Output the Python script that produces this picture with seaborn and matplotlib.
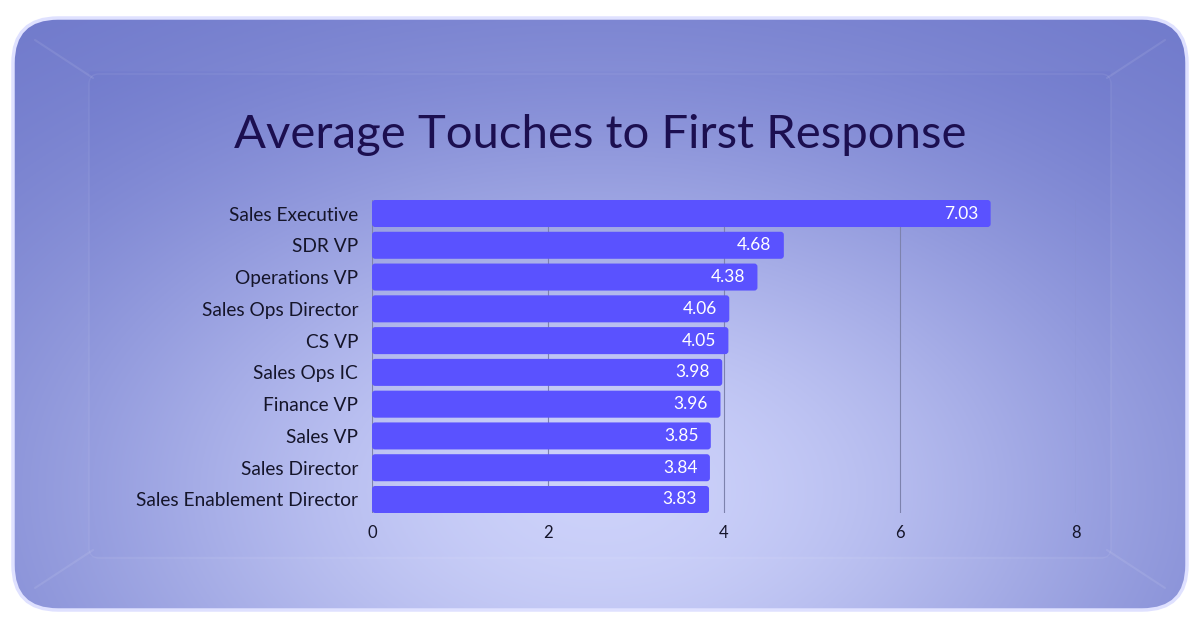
import numpy as np
import pandas as pd
import seaborn as sns
import matplotlib.pyplot as plt
from matplotlib.patches import FancyBboxPatch

roles = ['Sales Executive', 'SDR VP', 'Operations VP', 'Sales Ops Director',
         'CS VP', 'Sales Ops IC', 'Finance VP', 'Sales VP', 'Sales Director',
         'Sales Enablement Director']
touches = [7.03, 4.68, 4.38, 4.06, 4.05, 3.98, 3.96, 3.85, 3.84, 3.83]
ticks = [0, 2, 4, 6, 8]

df = pd.DataFrame({'role': roles, 'touches': touches})

sns.set_theme(style='white')
plt.rcParams['font.family'] = ['Lato', 'DejaVu Sans']

W, H = 1200, 627
fig = plt.figure(figsize=(12, 6.27), dpi=100)
fig.patch.set_facecolor('white')

# background card with a soft gradient
bg = fig.add_axes([0, 0, 1, 1])
bg.set_xlim(0, W)
bg.set_ylim(H, 0)
bg.axis('off')
x0, x1, y0, y1 = 13, 1187, 18, 610
yy, xx = np.mgrid[0:1:300j, 0:1:600j]
t = np.exp(-((xx - 0.5) / 0.5) ** 2 - ((yy - 0.8) / 0.62) ** 2)
dark = np.array([0.40, 0.44, 0.78])
light = np.array([0.80, 0.82, 0.98])
img = dark + (light - dark) * t[..., None]
band = ((xx < 0.065) | (xx > 0.935) | (yy < 0.09) | (yy > 0.91))
img[band] = img[band] * 0.97 + 0.03
card = FancyBboxPatch((x0, y0), x1 - x0, y1 - y0,
                      boxstyle='round,pad=0,rounding_size=45',
                      facecolor='none', edgecolor='#dfe1ff', lw=2.5)
bg.add_patch(card)
im = bg.imshow(img, extent=(x0, x1, y1, y0), aspect='auto', zorder=0)
im.set_clip_path(card)
inner = FancyBboxPatch((x0 + 76, y0 + 56), x1 - x0 - 152, y1 - y0 - 108,
                       boxstyle='round,pad=0,rounding_size=10',
                       facecolor='none', edgecolor='white', lw=1, alpha=0.07)
bg.add_patch(inner)
for (ax_, ay_), (bx_, by_) in [((x0 + 22, y0 + 22), (x0 + 80, y0 + 60)),
                               ((x1 - 22, y0 + 22), (x1 - 80, y0 + 60)),
                               ((x0 + 22, y1 - 22), (x0 + 80, y1 - 60)),
                               ((x1 - 22, y1 - 22), (x1 - 80, y1 - 60))]:
    bg.plot([ax_, bx_], [ay_, by_], color='white', lw=1.5, alpha=0.09)

bg.text(600, 135, 'Average Touches to First Response', ha='center', va='center',
        fontsize=34, color='#1c0f50')

# bar chart
ax = fig.add_axes([372 / W, 1 - 513 / H, (1076 - 372) / W, (513 - 200) / H])
ax.patch.set_alpha(0)
sns.barplot(data=df, x='touches', y='role', order=roles, color='#5a52ff',
            saturation=1, width=0.85, ax=ax)

# round the bar ends a little
aspect = (1 / 31.8) / (1 / 88.0)
for p in list(ax.patches):
    bx, by, bw, bh = p.get_x(), p.get_y(), p.get_width(), p.get_height()
    p.remove()
    ax.add_patch(FancyBboxPatch((bx, by), bw, bh,
                                boxstyle='round,pad=0,rounding_size=0.035',
                                mutation_aspect=aspect, facecolor='#5a52ff',
                                edgecolor='none', zorder=2))

for i, v in enumerate(touches):
    ax.text(v - 0.14, i, f'{v:.2f}', ha='right', va='center',
            color='white', fontsize=12.5, zorder=3)

ax.set_xlim(0, 8)
ax.set_ylim(len(roles) - 1 + 0.425, -0.425)
ax.set_xticks(ticks)
ax.grid(True, axis='x', color='#7d82ad', lw=0.8)
ax.set_axisbelow(True)
ax.set_xlabel('')
ax.set_ylabel('')
ax.tick_params(axis='y', length=0, pad=10, labelsize=13.8, labelcolor='#15152a')
ax.tick_params(axis='x', length=0, pad=9, labelsize=12, labelcolor='#15152a')
sns.despine(ax=ax, left=True, bottom=True)

plt.savefig('out.png', dpi=100)
